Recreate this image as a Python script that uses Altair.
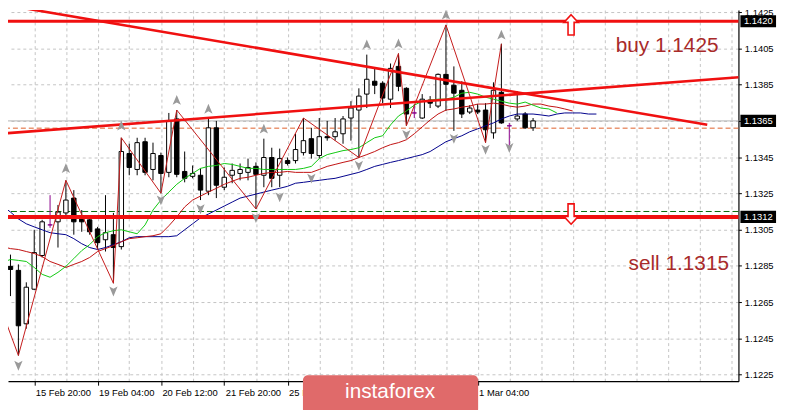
import altair as alt
import pandas as pd

# ---------------- data (EURUSD H4) ----------------
bar_index = list(range(68))
opens = [1.12874, 1.12847, 1.12825, 1.12530, 1.12721, 1.12907, 1.13076, 1.13093, 1.13142, 1.13224,
         1.13109, 1.13104, 1.13054, 1.12994, 1.13022, 1.12956, 1.13470, 1.13382, 1.13535, 1.13382,
         1.13459, 1.13366, 1.13661, 1.13371, 1.13344, 1.13350, 1.13262, 1.13612, 1.13284, 1.13350,
         1.13360, 1.13366, 1.13399, 1.13350, 1.13448, 1.13350, 1.13431, 1.13431, 1.13475, 1.13552,
         1.13459, 1.13563, 1.13563, 1.13579, 1.13666, 1.13710, 1.13798, 1.13869, 1.13858, 1.13770,
         1.13951, 1.13830, 1.13694, 1.13666, 1.13765, 1.13732, 1.13907, 1.13847, 1.13819, 1.13699,
         1.13710, 1.13710, 1.13584, 1.13808, 1.13623, 1.13661, 1.13688, 1.13612]
highs = [1.12896, 1.12912, 1.12858, 1.12759, 1.13049, 1.13104, 1.13240, 1.13186, 1.13322, 1.13268,
         1.13158, 1.13120, 1.13065, 1.13240, 1.13142, 1.13557, 1.13524, 1.13557, 1.13557, 1.13530,
         1.13475, 1.13694, 1.13710, 1.13481, 1.13404, 1.13388, 1.13661, 1.13650, 1.13393, 1.13415,
         1.13415, 1.13442, 1.13421, 1.13552, 1.13502, 1.13497, 1.13448, 1.13579, 1.13666, 1.13612,
         1.13666, 1.13650, 1.13666, 1.13677, 1.13759, 1.13830, 1.14016, 1.13940, 1.13869, 1.13967,
         1.14022, 1.13836, 1.13743, 1.13798, 1.13787, 1.13912, 1.14180, 1.13951, 1.13869, 1.13737,
         1.13743, 1.13748, 1.13863, 1.14076, 1.13639, 1.13814, 1.13699, 1.13666]
lows = [1.12819, 1.12683, 1.12355, 1.12503, 1.12716, 1.12896, 1.13060, 1.12951, 1.13115, 1.13022,
        1.13038, 1.13022, 1.12940, 1.12929, 1.12754, 1.12940, 1.13350, 1.13350, 1.13350, 1.13322,
        1.13251, 1.13339, 1.13339, 1.13311, 1.13333, 1.13213, 1.13240, 1.13224, 1.13268, 1.13306,
        1.13322, 1.13322, 1.13164, 1.13284, 1.13284, 1.13284, 1.13404, 1.13415, 1.13459, 1.13442,
        1.13442, 1.13541, 1.13541, 1.13524, 1.13541, 1.13448, 1.13721, 1.13798, 1.13748, 1.13721,
        1.13814, 1.13623, 1.13666, 1.13661, 1.13721, 1.13721, 1.13705, 1.13595, 1.13666, 1.13688,
        1.13688, 1.13530, 1.13552, 1.13634, 1.13513, 1.13650, 1.13606, 1.13595]
closes = [1.12847, 1.12830, 1.12519, 1.12732, 1.12923, 1.13093, 1.13076, 1.13147, 1.13213, 1.13093,
          1.13093, 1.13038, 1.12978, 1.13033, 1.12951, 1.13481, 1.13393, 1.13530, 1.13366, 1.13470,
          1.13360, 1.13650, 1.13355, 1.13333, 1.13360, 1.13268, 1.13612, 1.13295, 1.13339, 1.13377,
          1.13382, 1.13393, 1.13355, 1.13448, 1.13333, 1.13442, 1.13415, 1.13492, 1.13541, 1.13470,
          1.13563, 1.13557, 1.13590, 1.13661, 1.13721, 1.13787, 1.13880, 1.13847, 1.13776, 1.13940,
          1.13841, 1.13688, 1.13694, 1.13770, 1.13748, 1.13907, 1.13852, 1.13803, 1.13688, 1.13721,
          1.13699, 1.13601, 1.13819, 1.13639, 1.13623, 1.13677, 1.13612, 1.13650]

# moving averages (values per bar, starting at bar 0; shifted lines run past the last candle)
ma_fast = [1.12869, 1.12885, 1.12880, 1.12874, 1.12841, 1.12803, 1.12787, 1.12814, 1.12847, 1.12890,
           1.12934, 1.12967, 1.13011, 1.13033, 1.13044, 1.13049, 1.13038, 1.13027, 1.13076, 1.13158,
           1.13213, 1.13257, 1.13300, 1.13333, 1.13360, 1.13388, 1.13399, 1.13404, 1.13415, 1.13410,
           1.13399, 1.13388, 1.13388, 1.13382, 1.13382, 1.13382, 1.13382, 1.13382, 1.13388, 1.13399,
           1.13442, 1.13464, 1.13475, 1.13486, 1.13492, 1.13502, 1.13530, 1.13557, 1.13568, 1.13628,
           1.13677, 1.13705, 1.13737, 1.13759, 1.13765, 1.13770, 1.13770, 1.13781, 1.13803, 1.13808,
           1.13798, 1.13781, 1.13770, 1.13759, 1.13748, 1.13743, 1.13754, 1.13737, 1.13721, 1.13716,
           1.13694]
ma_mid = [1.12956, 1.12945, 1.12940, 1.12929, 1.12918, 1.12901, 1.12874, 1.12858, 1.12841, 1.12858,
          1.12874, 1.12896, 1.12929, 1.12945, 1.12962, 1.12983, 1.13000, 1.13005, 1.13011, 1.13016,
          1.13027, 1.13071, 1.13120, 1.13175, 1.13213, 1.13235, 1.13257, 1.13278, 1.13300, 1.13317,
          1.13333, 1.13339, 1.13350, 1.13360, 1.13366, 1.13366, 1.13371, 1.13366, 1.13366, 1.13366,
          1.13382, 1.13399, 1.13410, 1.13421, 1.13431, 1.13448, 1.13464, 1.13481, 1.13502, 1.13519,
          1.13530, 1.13546, 1.13579, 1.13617, 1.13655, 1.13688, 1.13710, 1.13716, 1.13726, 1.13732,
          1.13743, 1.13743, 1.13748, 1.13743, 1.13732, 1.13726, 1.13732, 1.13743, 1.13743, 1.13732,
          1.13726, 1.13716, 1.13705]
ma_slow = [1.13180, 1.13147, 1.13109, 1.13082, 1.13065, 1.13049, 1.13033, 1.13027, 1.13022, 1.13000,
           1.12972, 1.12951, 1.12940, 1.12951, 1.12967, 1.12983, 1.13005, 1.13011, 1.13011, 1.13011,
           1.13011, 1.13011, 1.13016, 1.13049, 1.13082, 1.13115, 1.13136, 1.13158, 1.13180, 1.13202,
           1.13224, 1.13235, 1.13246, 1.13257, 1.13268, 1.13278, 1.13289, 1.13306, 1.13311, 1.13317,
           1.13322, 1.13328, 1.13333, 1.13344, 1.13355, 1.13366, 1.13382, 1.13399, 1.13410, 1.13421,
           1.13431, 1.13442, 1.13453, 1.13464, 1.13481, 1.13508, 1.13535, 1.13552, 1.13568, 1.13590,
           1.13606, 1.13623, 1.13639, 1.13661, 1.13677, 1.13688, 1.13688, 1.13688, 1.13683, 1.13677,
           1.13688, 1.13694, 1.13694, 1.13694, 1.13688, 1.13688]

zigzag_bars = [-1, 2, 8, 14, 15, 20, 22, 32, 38, 45, 50, 51, 56, 61, 63]
zigzag_prices = [1.12710, 1.12355, 1.13322, 1.12754, 1.13557, 1.13251, 1.13710, 1.13164,
                 1.13666, 1.13448, 1.14022, 1.13623, 1.14180, 1.13530, 1.14076]

fractal_up_bars = [8, 15, 22, 26, 33, 46, 50, 56, 63]
fractal_up_prices = [1.13388, 1.13623, 1.13765, 1.13716, 1.13606, 1.14071, 1.14076, 1.14235, 1.14125]
fractal_dn_bars = [2, 14, 20, 25, 32, 35, 39, 45, 51, 57, 61, 64]
fractal_dn_prices = [1.12300, 1.12710, 1.13213, 1.13164, 1.13115, 1.13229, 1.13333, 1.13404,
                     1.13574, 1.13552, 1.13492, 1.13502]

trend_down_bars = [-1, 89]
trend_down_prices = [1.14300, 1.13629]
trend_up_bars = [-1, 93]
trend_up_prices = [1.13577, 1.13891]

level_prices = [1.1420, 1.1312]
sell_dash_price = [1.1315]
entry_dash_price = [1.1361]
bid_price = [1.1365]

signal_bars = [71.8, 71.8]
signal_prices = [1.14180, 1.13136]
signal_dirs = ["up", "down"]

note_texts = ["buy 1.1425", "sell 1.1315"]
note_bars = [77.44, 79.06]
note_prices = [1.14032, 1.12825]

tick_bars = [4, 12, 20, 28, 36, 44, 52, 60]
tick_texts = ["15 Feb 20:00", "19 Feb 04:00", "20 Feb 12:00", "21 Feb 20:00",
              "25 Feb 04:00", "26 Feb 12:00", "27 Feb 20:00", "1 Mar 04:00"]
grid_bars = list(range(0, 96, 4))
price_ticks = [1.1225, 1.1245, 1.1265, 1.1285, 1.1305, 1.1325, 1.1345, 1.1365,
               1.1385, 1.1405, 1.1425]

# ---------------- scales / axes ----------------
W, H = 738, 375
FONT = "Liberation Sans"
XSCALE = alt.Scale(domain=[0.6875, 92.9375], nice=False, zero=False)
YSCALE = alt.Scale(domain=[1.12213, 1.14262], nice=False, zero=False)

label_expr = "''"
for b, t in reversed(list(zip(tick_bars, tick_texts))):
    label_expr = f"datum.value == {b} ? '{t}' : ({label_expr})"
tick_test = "indexof([" + ",".join(str(b) for b in tick_bars) + "], datum.value) >= 0"

x_axis = alt.Axis(
    values=grid_bars, labelExpr=label_expr, orient="bottom", title=None,
    grid=True, gridColor="#c4c4c4", gridDash=[3, 3], gridWidth=1,
    domainColor="#000000", domainWidth=1.2,
    tickColor="#000000", tickSize=4,
    tickOpacity={"condition": {"test": tick_test, "value": 1}, "value": 0},
    labelAlign="left", labelBaseline="top", labelPadding=2, labelOffset=1,
    labelFont=FONT, labelFontSize=9.5, labelColor="#000000",
    labelFlush=False, labelOverlap=False,
)
y_axis = alt.Axis(
    values=price_ticks, format=".4f", orient="right", title=None,
    grid=True, gridColor="#c4c4c4", gridDash=[3, 3], gridWidth=1,
    domainColor="#000000", domainWidth=1.2,
    tickColor="#000000", tickSize=3, labelPadding=3,
    labelFont=FONT, labelFontSize=9.5, labelColor="#000000",
    labelFlush=False, labelOverlap=False,
)


def X(f):
    return alt.X(f, type="quantitative", scale=XSCALE, axis=x_axis)


def Y(f):
    return alt.Y(f, type="quantitative", scale=YSCALE, axis=y_axis)


# ---------------- layers ----------------
candles = pd.DataFrame({"k": bar_index, "open": opens, "high": highs, "low": lows, "close": closes})
cbase = alt.Chart(candles).transform_calculate(
    dir="datum.close > datum.open ? 'up' : (datum.close < datum.open ? 'down' : 'doji')",
    x0="datum.k - 0.28", x1="datum.k + 0.28")
dir_dom = ["up", "down", "doji"]
wicks = cbase.mark_rule(clip=True, strokeWidth=1).encode(
    x=X("k"), y=Y("low"), y2=alt.Y2("high"),
    color=alt.Color("dir:N", scale=alt.Scale(domain=dir_dom, range=["#000000", "#000000", "#8b008b"]), legend=None))
bodies = cbase.mark_rect(clip=True, strokeWidth=1).encode(
    x=X("x0"), x2=alt.X2("x1"), y=Y("open"), y2=alt.Y2("close"),
    fill=alt.Fill("dir:N", scale=alt.Scale(domain=dir_dom, range=["#ffffff", "#000000", "#8b008b"]), legend=None),
    stroke=alt.Stroke("dir:N", scale=alt.Scale(domain=dir_dom, range=["#000000", "#000000", "#8b008b"]), legend=None))


def series_line(vals, color, width=1, bars=None, dash=None):
    df = pd.DataFrame({"k": bars if bars is not None else list(range(len(vals))), "v": vals})
    kw = dict(clip=True, color=color, strokeWidth=width)
    if dash:
        kw["strokeDash"] = dash
    return alt.Chart(df).mark_line(**kw).encode(x=X("k"), y=Y("v"), order="k:Q")


def hline(vals, color, width=1, dash=None):
    kw = dict(color=color, strokeWidth=width)
    if dash:
        kw["strokeDash"] = dash
    return alt.Chart(pd.DataFrame({"v": vals})).mark_rule(**kw).encode(y=Y("v"))


bid_line = hline(bid_price, "#b4b4b4", 1)
entry_line = hline(entry_dash_price, "#e0602a", 1, [5, 3])
sell_dash = hline(sell_dash_price, "#0a6a0a", 1, [6, 3])

green = series_line(ma_fast, "#10c810", 1)
redma = series_line(ma_mid, "#c01010", 1)
blue = series_line(ma_slow, "#00008c", 1)
zigzag = series_line(zigzag_prices, "#c41a1a", 1, bars=zigzag_bars)

RED = "#f01010"
trend1 = series_line(trend_down_prices, RED, 2.6, bars=trend_down_bars)
trend2 = series_line(trend_up_prices, RED, 2.6, bars=trend_up_bars)
buy_level = hline(level_prices[:1], RED, 3)
sell_level = hline(level_prices[1:], RED, 4)

UP_HEAD = "M0,-1 L0.8,0.9 L0,0.45 L-0.8,0.9 Z"
DN_HEAD = "M0,1 L0.8,-0.9 L0,-0.45 L-0.8,-0.9 Z"
frac_up = alt.Chart(pd.DataFrame({"k": fractal_up_bars, "v": fractal_up_prices})).mark_point(
    shape=UP_HEAD, filled=True, size=110, color="#9a9a9a", opacity=1, clip=True).encode(x=X("k"), y=Y("v"))
frac_dn = alt.Chart(pd.DataFrame({"k": fractal_dn_bars, "v": fractal_dn_prices})).mark_point(
    shape=DN_HEAD, filled=True, size=110, color="#9a9a9a", opacity=1, clip=True).encode(x=X("k"), y=Y("v"))

UP_ARROW = "M0,-1 L0.7,-0.25 L0.3,-0.25 L0.3,1 L-0.3,1 L-0.3,-0.25 L-0.7,-0.25 Z"
DN_ARROW = "M0,1 L0.7,0.25 L0.3,0.25 L0.3,-1 L-0.3,-1 L-0.3,0.25 L-0.7,0.25 Z"
sig = pd.DataFrame({"k": signal_bars, "v": signal_prices, "d": signal_dirs})
sig_up = alt.Chart(sig).transform_filter("datum.d == 'up'").mark_point(
    shape=UP_ARROW, size=420, fill="#ffffff", fillOpacity=1, stroke=RED, strokeWidth=1.6, opacity=1).encode(
    x=X("k"), y=Y("v"))
sig_dn = alt.Chart(sig).transform_filter("datum.d == 'down'").mark_point(
    shape=DN_ARROW, size=420, fill="#ffffff", fillOpacity=1, stroke=RED, strokeWidth=1.6, opacity=1).encode(
    x=X("k"), y=Y("v"))

notes = alt.Chart(pd.DataFrame({"k": note_bars, "v": note_prices, "t": note_texts})).mark_text(
    align="left", baseline="alphabetic", font=FONT, fontSize=21, color="#a82a2a").encode(
    x=X("k"), y=Y("v"), text="t:N")

# price tags on the right scale
tags = pd.DataFrame({"v": level_prices[:1] + bid_price + level_prices[1:], "kind": ["level", "bid", "level"]})
TAG = "M-1,-0.34 L1,-0.34 L1,0.34 L-1,0.34 Z"
tag_box = alt.Chart(tags).mark_point(shape=TAG, size=1296, filled=True, opacity=1, clip=False).encode(
    x=alt.value(W + 20), y=Y("v"),
    color=alt.Color("kind:N", scale=alt.Scale(domain=["level", "bid"], range=["#ee1111", "#000000"]), legend=None))
tag_text = alt.Chart(tags).transform_calculate(lbl="format(datum.v, '.4f')").mark_text(
    align="center", baseline="middle", font=FONT, fontSize=9.5, color="#ffffff", clip=False).encode(
    x=alt.value(W + 20), y=Y("v"), text="lbl:N")

# watermark
logo_text = ["instaforex"]
logo_box = alt.Chart(pd.DataFrame({"t": logo_text})).mark_rect(
    color="#e06a6a", cornerRadius=5, clip=False).encode(
    x=alt.value(298), x2=alt.value(475), y=alt.value(369), y2=alt.value(408))
logo_lbl = alt.Chart(pd.DataFrame({"t": logo_text})).mark_text(
    font=FONT, fontSize=21, color="#ffffff", align="center", baseline="middle", clip=False).encode(
    x=alt.value(386), y=alt.value(386), text="t:N")

chart = alt.layer(
    bid_line, entry_line, sell_dash,
    wicks, bodies,
    blue, redma, green, zigzag,
    trend1, trend2, buy_level, sell_level,
    frac_up, frac_dn, sig_up, sig_dn, notes,
    tag_box, tag_text, logo_box, logo_lbl,
).properties(
    width=W, height=H,
    padding={"left": 0, "top": 0, "right": 43, "bottom": 27},
    autosize=alt.AutoSizeParams(type="none"),
    background="#ffffff",
).configure_view(stroke=None)

chart.save("out.html", embed_options={"renderer": "svg", "actions": False})
